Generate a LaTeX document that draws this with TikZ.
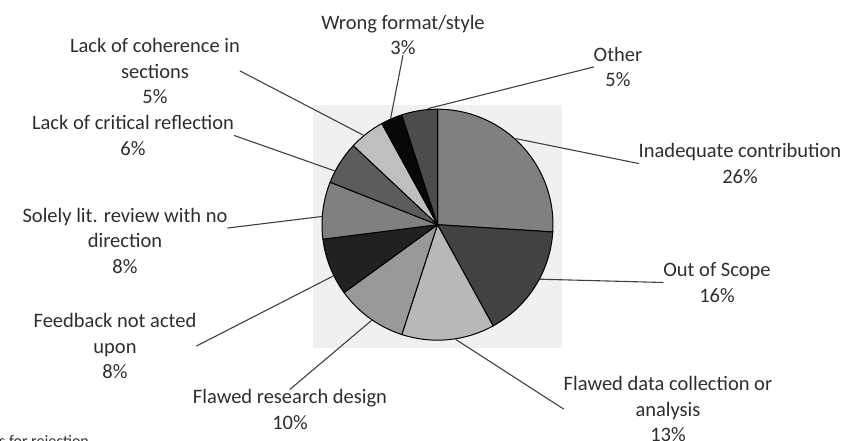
\documentclass[tikz,border=0pt]{standalone}
\usepackage{fontspec}
\setmainfont{Carlito}
\begin{document}
\begin{tikzpicture}[x=1pt, y=1pt, line join=round, line cap=round,
	lbl/.style={align=center, inner sep=0pt, text=black!82, font=\fontsize{20.5}{25.5}\selectfont},
	leader/.style={draw=black!75, line width=1.1pt},
	slice/.style={draw=black, line width=1pt}]
	\useasboundingbox (0,0) rectangle (847,441);
	\clip (0,0) rectangle (847,441);
	\fill[black!6] (313,93) rectangle (562,336);
	\coordinate (O) at (437.5,216.3);
	\foreach \a/\b/\c in {90/-3.6/50, -3.6/-61.2/74, -61.2/-108/28, -108/-144/40, -144/-172.8/87, -172.8/-201.6/50, -201.6/-223.2/64, -223.2/-241.2/25, -241.2/-252/97, -252/-270/70}
		\draw[slice, fill=black!\c] (O) -- ++(\a:115.5) arc (\a:\b:115.5) -- cycle;
	\foreach \n/\a in {inad/47.6, scope/-27.9, data/-80.8, design/-124.6, feed/-153.8, solely/176, crit/152.4, coh/129.7, wrong/113.7, other/94.6}
		\path (O) ++(\a:116.5) coordinate (p\n);
	\node[lbl] (lblwrong) at (403,406) {Wrong format/style\\3\%};
	\node[lbl] (lblother) at (618,374) {Other\\5\%};
	\node[lbl] (lblinad) at (740,277.5) {Inadequate contribution\\26\%};
	\node[lbl] (lblscope) at (717,158.5) {Out of Scope\\16\%};
	\node[lbl] (lbldata) at (668,32) {Flawed data collection or\\analysis\\13\%};
	\node[lbl] (lbldesign) at (290,31.5) {Flawed research design\\10\%};
	\node[lbl] (lblfeed) at (115,95) {Feedback not acted\\upon\\8\%};
	\node[lbl] (lblsolely) at (125,200.5) {Solely lit. review with no\\direction\\8\%};
	\node[lbl] (lblcrit) at (133,305.5) {Lack of critical reflection\\6\%};
	\node[lbl] (lblcoh) at (155,370) {Lack of coherence in\\sections\\5\%};
	\node[anchor=base west, inner sep=0pt, text=black!82, font=\fontsize{16}{19}\selectfont] (lblcap) at (-1,-6) {s for rejection};
	\draw[leader] (pinad) -- (lblinad.west);
	\draw[leader] (pscope) -- (lblscope.west);
	\draw[leader] (pdata) -- (lbldata.west);
	\draw[leader] (pdesign) -- (lbldesign.north);
	\draw[leader] (pfeed) -- (lblfeed.east);
	\draw[leader] (psolely) -- (lblsolely);
	\draw[leader] (pcrit) -- (lblcrit.east);
	\draw[leader] (pcoh) -- (lblcoh.east);
	\draw[leader] (pwrong) -- (lblwrong.south);
	\draw[leader] (pother) -- (lblother.west);
\end{tikzpicture}
\end{document}
